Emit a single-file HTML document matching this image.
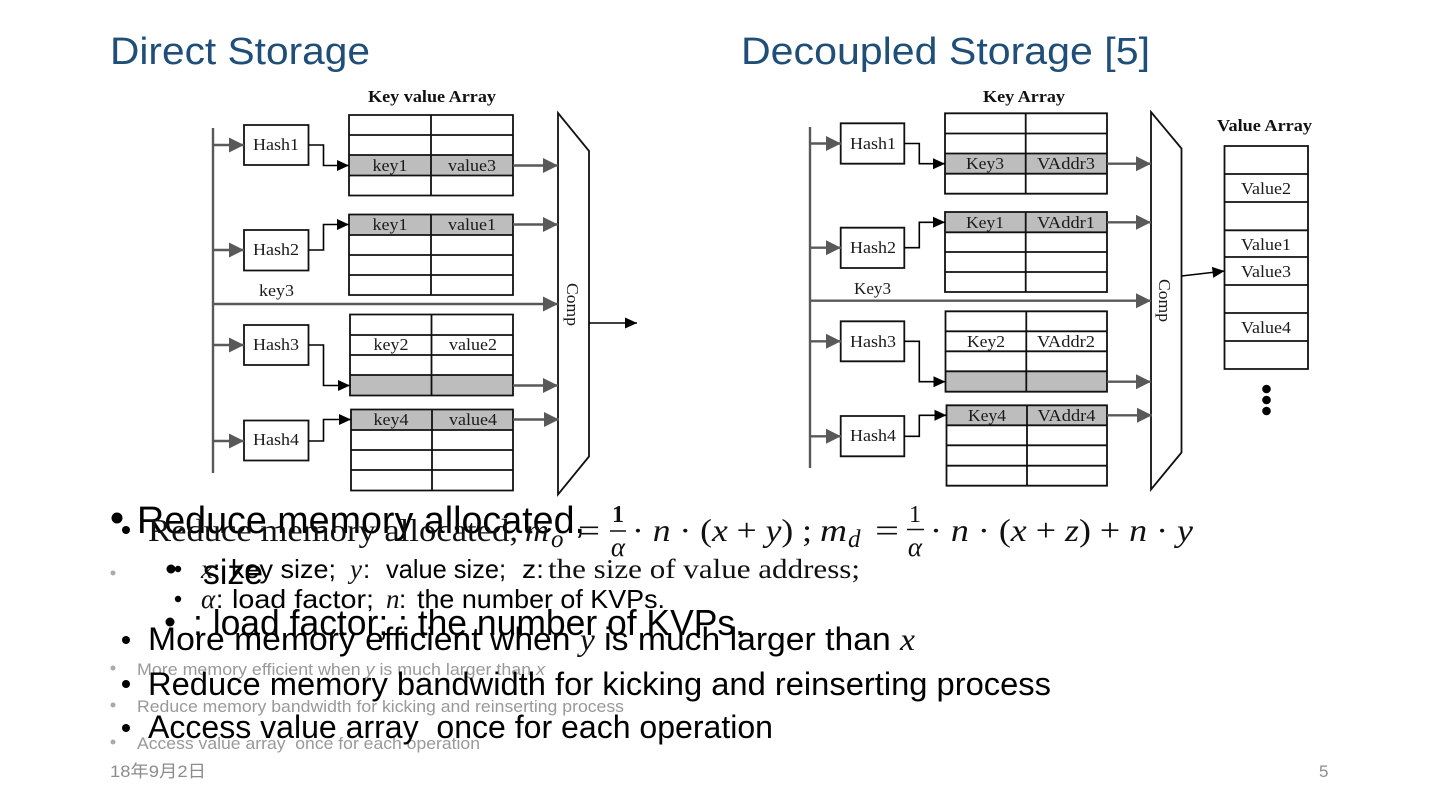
<!DOCTYPE html>
<html><head><meta charset="utf-8"><style>
html,body{margin:0;padding:0;background:#fff;width:1440px;height:810px;overflow:hidden}
svg{display:block}
text{white-space:pre}
.t{font-family:"Liberation Serif",serif;font-size:16.500px;fill:#1a1a1a;text-anchor:middle}
.b{font-family:"Liberation Serif",serif;font-size:17px;font-weight:bold;fill:#111}
.h{font-family:"Liberation Sans",sans-serif;font-size:38px;fill:#1f4e79}
.s{font-family:"Liberation Sans",sans-serif;fill:#000}
.g{font-family:"Liberation Sans",sans-serif;font-size:16.500px;fill:#999}
.m{font-family:"Liberation Serif",serif;fill:#111}
.i{font-family:"Liberation Serif",serif;font-style:italic;fill:#111}
.k{fill:none;stroke:#111;stroke-width:1.8}
.a{fill:none;stroke:#595959;stroke-width:2.4;marker-end:url(#ga)}
.c{fill:none;stroke:#000;stroke-width:1.6;marker-end:url(#ka)}
.f{fill:#bdbdbd}
</style></head><body>
<svg width="1440" height="810" viewBox="0 0 1440 810" xmlns="http://www.w3.org/2000/svg">
<defs>
<marker id="ga" markerUnits="userSpaceOnUse" markerWidth="16" markerHeight="16" refX="15" refY="8" orient="auto"><path d="M0 .5L15 8L0 15.500Z" fill="#595959"/></marker>
<marker id="ka" markerUnits="userSpaceOnUse" markerWidth="14" markerHeight="14" refX="13" refY="7" orient="auto"><path d="M1 1.500L13 7L1 12.500Z" fill="#000"/></marker>
</defs>

<text class="h" x="110" y="64" textLength="260" lengthAdjust="spacingAndGlyphs">Direct Storage</text>
<text class="h" x="741" y="64" textLength="409" lengthAdjust="spacingAndGlyphs">Decoupled Storage [5]</text>

<!-- LEFT DIAGRAM -->
<text class="b" x="368" y="102" textLength="128" lengthAdjust="spacingAndGlyphs">Key value Array</text>
<rect class="f" x="349" y="155" width="164" height="20.500"/>
<rect class="f" x="349" y="214.500" width="164" height="20.500"/>
<rect class="f" x="350" y="375" width="163" height="20.500"/>
<rect class="f" x="351" y="409.500" width="162" height="20.500"/>
<path class="k" d="M349 115H513V195.500H349ZM349 135H513M349 155H513M349 175.500H513M431 115V195.500"/>
<path class="k" d="M349 214.500H513V295H349ZM349 235H513M349 255H513M349 275H513M431 214.500V295"/>
<path class="k" d="M350 314.500H513V395.500H350ZM350 335H513M350 355H513M350 375H513M431.500 314.500V395.500"/>
<path class="k" d="M351 409.500H513V490.500H351ZM351 430H513M351 450H513M351 470H513M432 409.500V490.500"/>
<path class="k" d="M244 125H308.500V165H244ZM244 230H308.500V270.500H244ZM244 325H308.500V365H244ZM244 420.500H308.500V460.500H244Z"/>
<path class="k" d="M558 113L589 151V456.500L558 494.500Z"/>
<path d="M213 128V473" stroke="#595959" stroke-width="2.400" fill="none"/>
<path class="a" d="M213 145H244"/><path class="a" d="M213 250H244"/><path class="a" d="M213 345H244"/><path class="a" d="M213 441H244"/>
<path class="a" d="M213 304H558"/>
<path class="a" d="M513 165.500H558"/><path class="a" d="M513 224.500H558"/><path class="a" d="M513 385.500H558"/><path class="a" d="M513 419.500H559"/>
<path class="c" d="M309 145H323.500V165.500H349"/>
<path class="c" d="M309 250H323.500V224.500H349"/>
<path class="c" d="M309 345H323.500V385.500H350"/>
<path class="c" d="M309 441H323.500V419.500H351"/>
<path class="c" d="M589 323H637"/>
<text class="t" x="276" y="150" textLength="46" lengthAdjust="spacingAndGlyphs">Hash1</text>
<text class="t" x="276" y="255" textLength="46" lengthAdjust="spacingAndGlyphs">Hash2</text>
<text class="t" x="276" y="350" textLength="46" lengthAdjust="spacingAndGlyphs">Hash3</text>
<text class="t" x="276" y="445" textLength="46" lengthAdjust="spacingAndGlyphs">Hash4</text>
<text class="t" x="276.500" y="296" textLength="35" lengthAdjust="spacingAndGlyphs">key3</text>
<text class="t" x="390" y="171" textLength="35" lengthAdjust="spacingAndGlyphs">key1</text><text class="t" x="472" y="171" textLength="48" lengthAdjust="spacingAndGlyphs">value3</text>
<text class="t" x="390" y="230" textLength="35" lengthAdjust="spacingAndGlyphs">key1</text><text class="t" x="472" y="230" textLength="48" lengthAdjust="spacingAndGlyphs">value1</text>
<text class="t" x="391" y="350" textLength="35" lengthAdjust="spacingAndGlyphs">key2</text><text class="t" x="473" y="350" textLength="48" lengthAdjust="spacingAndGlyphs">value2</text>
<text class="t" x="391" y="425" textLength="35" lengthAdjust="spacingAndGlyphs">key4</text><text class="t" x="473" y="425" textLength="48" lengthAdjust="spacingAndGlyphs">value4</text>
<text class="t" transform="translate(567 304.500) rotate(90)" textLength="43" lengthAdjust="spacingAndGlyphs">Comp</text>

<!-- RIGHT DIAGRAM -->
<text class="b" x="983" y="102" textLength="82" lengthAdjust="spacingAndGlyphs">Key Array</text>
<text class="b" x="1217" y="131" textLength="95" lengthAdjust="spacingAndGlyphs">Value Array</text>
<rect class="f" x="945" y="153.500" width="162" height="20"/>
<rect class="f" x="945" y="212" width="162" height="20.300"/>
<rect class="f" x="945.500" y="371.300" width="161.500" height="20.400"/>
<rect class="f" x="946.500" y="405.300" width="160.500" height="20"/>
<path class="k" d="M945 113.300H1107V193.700H945ZM945 133.500H1107M945 153.500H1107M945 173.700H1107M1025.700 113.300V193.700"/>
<path class="k" d="M945 212H1107V292H945ZM945 232.300H1107M945 252H1107M945 272H1107M1025.700 212V292"/>
<path class="k" d="M945.500 311.300H1107V391.700H945.500ZM945.500 331.300H1107M945.500 351.300H1107M945.500 371.300H1107M1026.300 311.300V391.700"/>
<path class="k" d="M946.500 405.300H1107V485.700H946.500ZM946.500 425.300H1107M946.500 445.300H1107M946.500 465.700H1107M1027 405.300V485.700"/>
<path class="k" d="M840.700 123.300H904.300V163.700H840.700ZM840.700 227.700H904.300V268H840.700ZM840.700 321.300H904.300V361.300H840.700ZM840.700 416H904.300V456.300H840.700Z"/>
<path class="k" d="M1151 112L1181.500 148.500V452.500L1151 489.500Z"/>
<path class="k" d="M1224.500 146H1308V369H1224.500ZM1224.500 174H1308M1224.500 202H1308M1224.500 230.300H1308M1224.500 257H1308M1224.500 285H1308M1224.500 313H1308M1224.500 341H1308"/>
<circle cx="1266.500" cy="389" r="4.300" fill="#000"/><circle cx="1266.500" cy="400" r="4.300" fill="#000"/><circle cx="1266.500" cy="411" r="4.300" fill="#000"/>
<path d="M810 127V468" stroke="#595959" stroke-width="2.400" fill="none"/>
<path class="a" d="M810 143.500H841"/><path class="a" d="M810 247.700H841"/><path class="a" d="M810 341.300H841"/><path class="a" d="M810 436.300H841"/>
<path class="a" d="M810 300.700H1151"/>
<path class="a" d="M1107 163.700H1151"/><path class="a" d="M1107 222.300H1151"/><path class="a" d="M1107 381.700H1151"/><path class="a" d="M1107 415.300H1152"/>
<path class="c" d="M904.500 143.500H919.300V163.700H945"/>
<path class="c" d="M904.500 247.700H919.300V222.300H945"/>
<path class="c" d="M904.500 341.300H919.300V381.700H945.500"/>
<path class="c" d="M904.500 436.300H919.300V415.300H946.500"/>
<path class="c" d="M1181.500 276L1224.500 271"/>
<text class="t" x="873" y="149" textLength="46" lengthAdjust="spacingAndGlyphs">Hash1</text>
<text class="t" x="873" y="253" textLength="46" lengthAdjust="spacingAndGlyphs">Hash2</text>
<text class="t" x="873" y="347" textLength="46" lengthAdjust="spacingAndGlyphs">Hash3</text>
<text class="t" x="873" y="441" textLength="46" lengthAdjust="spacingAndGlyphs">Hash4</text>
<text class="t" x="872.500" y="294" textLength="37" lengthAdjust="spacingAndGlyphs">Key3</text>
<text class="t" x="985" y="169" textLength="38" lengthAdjust="spacingAndGlyphs">Key3</text><text class="t" x="1066" y="169" textLength="58" lengthAdjust="spacingAndGlyphs">VAddr3</text>
<text class="t" x="985" y="228" textLength="38" lengthAdjust="spacingAndGlyphs">Key1</text><text class="t" x="1066" y="228" textLength="58" lengthAdjust="spacingAndGlyphs">VAddr1</text>
<text class="t" x="986" y="347" textLength="38" lengthAdjust="spacingAndGlyphs">Key2</text><text class="t" x="1066" y="347" textLength="58" lengthAdjust="spacingAndGlyphs">VAddr2</text>
<text class="t" x="987" y="421" textLength="38" lengthAdjust="spacingAndGlyphs">Key4</text><text class="t" x="1066.500" y="421" textLength="58" lengthAdjust="spacingAndGlyphs">VAddr4</text>
<text class="t" x="1266" y="194" textLength="50" lengthAdjust="spacingAndGlyphs">Value2</text>
<text class="t" x="1266" y="250" textLength="50" lengthAdjust="spacingAndGlyphs">Value1</text>
<text class="t" x="1266" y="277" textLength="50" lengthAdjust="spacingAndGlyphs">Value3</text>
<text class="t" x="1266" y="333" textLength="50" lengthAdjust="spacingAndGlyphs">Value4</text>
<text class="t" transform="translate(1159 300.500) rotate(90)" textLength="43" lengthAdjust="spacingAndGlyphs">Comp</text>

<!-- GREY LAYER -->
<circle cx="113" cy="573" r="2.500" fill="#aaa"/>
<circle cx="113" cy="668" r="2.500" fill="#aaa"/>
<circle cx="113" cy="705" r="2.500" fill="#aaa"/>
<circle cx="113" cy="742" r="2.500" fill="#aaa"/>
<text class="g" x="137" y="675" textLength="408" lengthAdjust="spacingAndGlyphs">More memory efficient when <tspan font-style="italic">y</tspan> is much larger than <tspan font-style="italic">x</tspan></text>
<text class="g" x="137" y="712" textLength="487" lengthAdjust="spacingAndGlyphs">Reduce memory bandwidth for kicking and reinserting process</text>
<text class="g" x="137" y="749" textLength="343" lengthAdjust="spacingAndGlyphs">Access value array  once for each operation</text>
<text x="110" y="777" font-family="'Liberation Sans','Noto Sans CJK SC',sans-serif" font-size="17" fill="#8c8c8c" textLength="96" lengthAdjust="spacingAndGlyphs">18年9月2日</text>
<text x="1319" y="777" font-family="'Liberation Sans',sans-serif" font-size="17" fill="#8c8c8c">5</text>

<!-- BIG SANS LAYER -->
<circle cx="117" cy="518" r="5.500" fill="#000"/>
<text class="s" font-size="38" x="137" y="533" textLength="448" lengthAdjust="spacingAndGlyphs">Reduce memory allocated,</text>
<circle cx="171" cy="569" r="4.500" fill="#000"/>
<text class="s" font-size="35" x="203" y="584" textLength="60" lengthAdjust="spacingAndGlyphs">size</text>
<circle cx="170" cy="622" r="4.500" fill="#000"/>
<text class="s" font-size="36" x="193" y="635" textLength="552" lengthAdjust="spacingAndGlyphs">: load factor; : the number of KVPs.</text>

<!-- FOREGROUND -->
<circle cx="126" cy="530" r="4" fill="#000"/>
<text class="m" font-size="32" x="148" y="541" textLength="370" lengthAdjust="spacingAndGlyphs">Reduce memory allocated,</text>
<text class="i" font-size="32" x="525" y="541" textLength="24" lengthAdjust="spacingAndGlyphs">m</text>
<text class="i" font-size="25" x="551" y="547">o</text>
<text class="m" font-size="32" x="578" y="541" textLength="22" lengthAdjust="spacingAndGlyphs">=</text>
<text class="m" font-size="24" x="618" y="522" text-anchor="middle" font-weight="bold">1</text>
<path d="M610 531H626" stroke="#111" stroke-width="1.500"/>
<text class="i" font-size="27" x="618" y="556" text-anchor="middle">α</text>
<text class="m" font-size="32" x="632" y="541" textLength="180" lengthAdjust="spacingAndGlyphs">· <tspan font-style="italic">n</tspan> · (<tspan font-style="italic">x</tspan> + <tspan font-style="italic">y</tspan>) ;</text>
<text class="i" font-size="32" x="820" y="541" textLength="27" lengthAdjust="spacingAndGlyphs">m</text>
<text class="i" font-size="25" x="848" y="547">d</text>
<text class="m" font-size="32" x="875" y="541" textLength="24" lengthAdjust="spacingAndGlyphs">=</text>
<text class="m" font-size="24" x="915" y="522" text-anchor="middle">1</text>
<path d="M907 529.500H924" stroke="#111" stroke-width="1.500"/>
<text class="i" font-size="27" x="915" y="556" text-anchor="middle">α</text>
<text class="m" font-size="32" x="930" y="541" textLength="263" lengthAdjust="spacingAndGlyphs">· <tspan font-style="italic">n</tspan> · (<tspan font-style="italic">x</tspan> + <tspan font-style="italic">z</tspan>) + <tspan font-style="italic">n</tspan> · <tspan font-style="italic">y</tspan></text>

<circle cx="178" cy="569" r="3.200" fill="#000"/>
<text class="i" font-size="27" x="201" y="578">x</text>
<text class="s" font-size="26" x="213" y="578">:</text>
<text class="s" font-size="26" x="231" y="578" textLength="105" lengthAdjust="spacingAndGlyphs">key size;</text>
<text class="i" font-size="27" x="350" y="578">y</text>
<text class="s" font-size="26" x="363" y="578">:</text>
<text class="s" font-size="26" x="386" y="578" textLength="120" lengthAdjust="spacingAndGlyphs">value size;</text>
<text class="s" font-size="26" x="522" y="578" textLength="22" lengthAdjust="spacingAndGlyphs">z:</text>
<text class="m" font-size="27" x="548" y="578" textLength="312" lengthAdjust="spacingAndGlyphs">the size of value address;</text>

<circle cx="178" cy="599" r="3.200" fill="#000"/>
<text class="i" font-size="27" x="201" y="608">α</text>
<text class="s" font-size="26" x="216" y="608">:</text>
<text class="s" font-size="26" x="232" y="608" textLength="142" lengthAdjust="spacingAndGlyphs">load factor;</text>
<text class="i" font-size="27" x="386" y="608">n</text>
<text class="s" font-size="26" x="399" y="608">:</text>
<text class="s" font-size="26" x="417" y="608" textLength="248" lengthAdjust="spacingAndGlyphs">the number of KVPs.</text>

<circle cx="126" cy="640" r="4" fill="#000"/>
<text class="s" font-size="32" x="148" y="650" textLength="767" lengthAdjust="spacingAndGlyphs">More memory efficient when <tspan class="i">y</tspan> is much larger than <tspan class="i">x</tspan></text>
<circle cx="126" cy="684" r="4" fill="#000"/>
<text class="s" font-size="32" x="148" y="695" textLength="903" lengthAdjust="spacingAndGlyphs">Reduce memory bandwidth for kicking and reinserting process</text>
<circle cx="126" cy="728" r="4" fill="#000"/>
<text class="s" font-size="32" x="148" y="738" textLength="625" lengthAdjust="spacingAndGlyphs">Access value array  once for each operation</text>
</svg>
</body></html>
